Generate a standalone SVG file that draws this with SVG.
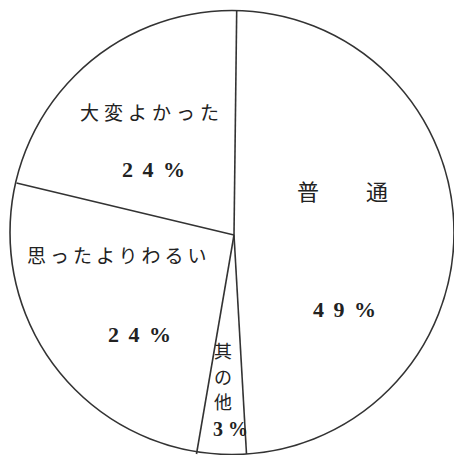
<svg xmlns="http://www.w3.org/2000/svg" width="454" height="455" viewBox="0 0 454 455">
<style>
.edge{stroke:#333;stroke-width:1.6;fill:none}
.jp{font-family:"Noto Sans CJK JP","Noto Sans",sans-serif;fill:#222}
.num{font-family:"Liberation Serif","Noto Sans CJK JP",serif;font-weight:bold;fill:#222;letter-spacing:2px}
</style>
<rect width="454" height="455" fill="#fff"/>
<g id="pie-outline">
<circle cx="232" cy="232.5" r="222" class="edge"/>
</g>
<g id="connectors">
<line x1="234" y1="235" x2="236.7" y2="10.5" class="edge"/>
<line x1="234" y1="235" x2="16.5" y2="183" class="edge"/>
<line x1="234" y1="235" x2="196.5" y2="454" class="edge"/>
<line x1="234" y1="235" x2="246.5" y2="454" class="edge"/>
</g>
<g id="node-taihen">
<text class="jp" x="80" y="120" font-size="19" letter-spacing="5">大変よかった</text>
<text class="num" x="122" y="177" font-size="22">2 4 %</text>
</g>
<g id="node-futsuu">
<text class="jp" x="297" y="200" font-size="22">普</text>
<text class="jp" x="366" y="200" font-size="22">通</text>
<text class="num" x="313" y="317" font-size="22">4 9 %</text>
</g>
<g id="node-warui">
<text class="jp" x="27" y="263" font-size="19" letter-spacing="4">思ったよりわるい</text>
<text class="num" x="108" y="342" font-size="22">2 4 %</text>
</g>
<g id="node-sonota">
<text class="jp" x="214" y="358" font-size="18">其</text>
<text class="jp" x="214" y="384" font-size="18">の</text>
<text class="jp" x="214" y="409" font-size="18">他</text>
<text class="num" x="213" y="436" font-size="20" style="letter-spacing:0">3 %</text>
</g>
</svg>
